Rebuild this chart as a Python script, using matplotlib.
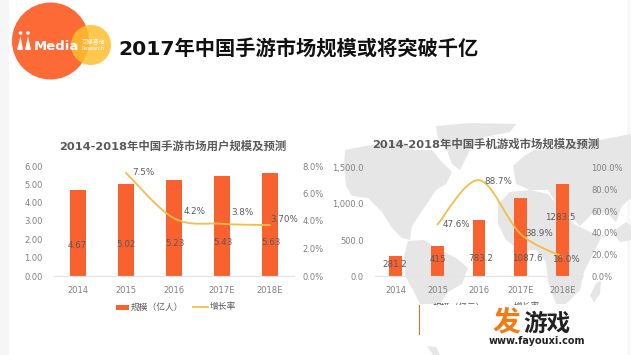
import matplotlib
matplotlib.use('Agg')
import matplotlib.pyplot as plt
from matplotlib.patches import Circle, PathPatch, Polygon, Rectangle
from matplotlib.path import Path

plt.rcParams['font.family'] = ['DejaVu Sans', 'Noto Sans CJK SC']

W, H = 631, 355
ORANGE = '#f9622e'
YELLOW = '#f5bd47'
GREY = '#7f7f7f'
DARK = '#595959'
MAP = '#e6e6e6'

# Chart data
years = ['2014', '2015', '2016', '2017E', '2018E']
users = [4.67, 5.02, 5.23, 5.43, 5.63]
users_growth = [7.5, 4.2, 3.8, 3.7]
users_growth_labels = ['7.5%', '4.2%', '3.8%', '3.70%']
market = [281.2, 415, 783.2, 1087.6, 1283.5]
market_labels = ['281.2', '415', '783.2', '1087.6', '1283.5']
market_growth = [47.6, 88.7, 38.9, 18.0]
market_growth_labels = ['47.6%', '88.7%', '38.9%', '18.0%']

# Label nudges in pixels, as placed in the original
users_bar_nudge = [(-1, -55), (0, -61), (1, -63), (1, -66), (1, -70)]
users_line_nudge = [(17, 0), (21, 7), (20, 11), (14, 6)]
market_bar_nudge = [(-1, -9), (1, -13), (2, -39), (7, -61), (-2, -34)]
market_line_nudge = [(19, 0), (19, -1), (19, 0), (4, -3)]

# Rough world map behind the right chart, in pixels
map_shapes = [
  [(345, 150), (365, 146), (385, 143), (400, 140), (415, 150), (432, 150), (440, 160), (452, 172),
   (446, 184), (436, 190), (428, 202), (420, 214), (412, 226), (410, 240), (402, 238), (392, 228),
   (382, 212), (368, 198), (352, 196), (346, 186), (344, 166)],
  [(436, 126), (470, 123), (516, 124), (510, 132), (480, 138), (470, 150), (460, 170), (452, 164),
   (446, 148), (438, 138)],
  [(408, 241), (424, 240), (440, 250), (456, 258), (468, 268), (462, 284), (448, 292), (440, 304),
   (420, 304), (414, 292), (405, 276), (404, 256)],
  [(427, 346), (436, 347), (440, 355), (433, 355)],
  [(513, 166), (524, 156), (534, 150), (560, 148), (576, 140), (600, 140), (631, 134), (631, 198),
   (622, 206), (616, 222), (606, 212), (592, 214), (580, 226), (570, 216), (558, 206), (548, 190),
   (530, 190), (516, 184)],
  [(498, 204), (510, 192), (530, 190), (548, 194), (562, 210), (574, 224), (590, 232), (602, 236),
   (592, 256), (584, 272), (580, 290), (566, 304), (556, 304), (548, 282), (546, 262), (536, 250),
   (520, 250), (506, 240), (498, 224)],
  [(596, 283), (601, 281), (600, 294), (594, 302), (590, 296)],
  [(612, 232), (626, 222), (631, 226), (631, 240), (620, 242)],
]


def px_axes(left, right, top, bottom):
  return [left / W, 1 - bottom / H, (right - left) / W, (bottom - top) / H]


def smooth_path(xs, ys):
  # Bezier segments through the real points, like a smoothed Excel line
  verts = [(xs[0], ys[0])]
  codes = [Path.MOVETO]
  n = len(xs)
  for i in range(n - 1):
    prev_i = max(i - 1, 0)
    next_i = min(i + 2, n - 1)
    verts.append((xs[i] + (xs[i + 1] - xs[prev_i]) / 6, ys[i] + (ys[i + 1] - ys[prev_i]) / 6))
    verts.append((xs[i + 1] - (xs[next_i] - xs[i]) / 6, ys[i + 1] - (ys[next_i] - ys[i]) / 6))
    verts.append((xs[i + 1], ys[i + 1]))
    codes += [Path.CURVE4] * 3
  return Path(verts, codes)


def combo(rect, values, value_labels, growth, growth_labels, ymax, yticks, yfmt, y2max, y2ticks,
          bar_nudge, line_nudge, bar_width):
  ax = fig.add_axes(rect, zorder=2)
  ax.patch.set_alpha(0)
  xs = list(range(len(years)))
  ax.bar(xs, values, bar_width, color=ORANGE)
  ax.set_xlim(-0.5, 4.5)
  ax.set_ylim(0, ymax)
  ax.set_yticks(yticks)
  ax.set_yticklabels([yfmt.format(v) for v in yticks])
  ax.set_xticks(xs)
  ax.set_xticklabels(years)
  ax.tick_params(length=0, labelsize=6, labelcolor=GREY)
  ax.tick_params(axis='y', pad=8)
  ax.tick_params(axis='x', pad=7)
  for name in ['top', 'left', 'right']:
    ax.spines[name].set_visible(False)
  ax.spines['bottom'].set_color('#e3e3ea')
  ax.spines['bottom'].set_linewidth(0.8)

  ax2 = ax.twinx()
  ax2.patch.set_alpha(0)
  ax2.set_ylim(0, y2max)
  ax2.set_yticks(y2ticks)
  ax2.set_yticklabels(['{:.1f}%'.format(v) for v in y2ticks])
  ax2.tick_params(length=0, labelsize=6, labelcolor=GREY, pad=6)
  for name in ['top', 'left', 'right', 'bottom']:
    ax2.spines[name].set_visible(False)
  ax2.add_patch(PathPatch(smooth_path(xs[1:], growth), fill=False, edgecolor=YELLOW, linewidth=1.3,
                          capstyle='round'))

  for x, v, text, nudge in zip(xs, values, value_labels, bar_nudge):
    ax2.annotate(text, (x, v / ymax * y2max), xytext=nudge, textcoords='offset pixels', ha='center',
                 va='center', fontsize=6.3, color=DARK)
  for x, v, text, nudge in zip(xs[1:], growth, growth_labels, line_nudge):
    ax2.annotate(text, (x, v), xytext=nudge, textcoords='offset pixels', ha='center', va='center',
                 fontsize=6.3, color=DARK)


fig = plt.figure(figsize=(W / 100, H / 100), dpi=100)

# Background layer: page strips and map
back = fig.add_axes([0, 0, 1, 1], zorder=0)
back.set_xlim(0, W)
back.set_ylim(H, 0)
back.axis('off')
back.add_patch(Rectangle((0, 0), 9, H, color='#f6f6f6', lw=0))
back.add_patch(Rectangle((627, 0), 4, H, color='#f8f8f8', lw=0))
for shape in map_shapes:
  back.add_patch(Polygon(shape, closed=True, facecolor=MAP, edgecolor='none'))

combo(px_axes(54, 294, 166, 276), users, ['{:.2f}'.format(v) for v in users], users_growth,
      users_growth_labels, 6, [0, 1, 2, 3, 4, 5, 6], '{:.2f}', 8, [0, 2, 4, 6, 8],
      users_bar_nudge, users_line_nudge, 0.32)
combo(px_axes(375, 583, 168, 276), market, market_labels, market_growth, market_growth_labels,
      1500, [0, 500, 1000, 1500], '{:,.1f}', 100, [0, 20, 40, 60, 80, 100],
      market_bar_nudge, market_line_nudge, 0.31)

# Top layer: titles, logo, legends and the watermark box
top = fig.add_axes([0, 0, 1, 1], zorder=5)
top.set_xlim(0, W)
top.set_ylim(H, 0)
top.axis('off')

top.add_patch(Circle((50.5, 41), 38.5, color='#fd6a35', lw=0))
top.add_patch(Circle((91, 45), 20, color='#fcc02f', alpha=0.85, lw=0))
top.text(56, 46, 'Media', color='white', fontsize=9.5, fontweight='bold', ha='center', va='center')
top.text(93, 42.5, '艾媒咨询', color='white', fontsize=4.2, ha='center', va='center')
top.text(93, 49, 'Research', color='white', fontsize=3.6, ha='center', va='center')
top.add_patch(Circle((20.5, 33), 1.8, color='white', lw=0))
top.add_patch(Circle((28, 33), 1.8, color='white', lw=0))
top.add_patch(Polygon([(20.5, 36), (23, 50), (17, 50)], closed=True, color='white', lw=0))
top.add_patch(Polygon([(28, 36), (31, 50), (25, 50)], closed=True, color='white', lw=0))

top.text(118, 49, '2017年中国手游市场规模或将突破千亿', color='#111111', fontsize=14.6, fontweight='bold',
         ha='left', va='center')
top.text(173, 146, '2014-2018年中国手游市场用户规模及预测', color=DARK, fontsize=8.2, fontweight='bold',
         ha='center', va='center')
top.text(486, 144, '2014-2018年中国手机游戏市场规模及预测', color=DARK, fontsize=8.2, fontweight='bold',
         ha='center', va='center')

# Legends
top.add_patch(Rectangle((116, 304.5), 13, 5, color=ORANGE, lw=0))
top.text(131, 307, '规模（亿人）', color=DARK, fontsize=6.3, ha='left', va='center')
top.plot([193, 208], [307, 307], color=YELLOW, lw=1.3)
top.text(210, 307, '增长率', color=DARK, fontsize=6.3, ha='left', va='center')
top.add_patch(Rectangle((419, 304.5), 13, 30, color=ORANGE, lw=0, zorder=2))
top.text(433, 307, '规模（亿元）', color=DARK, fontsize=6.3, ha='left', va='center', zorder=2)
top.plot([497, 512], [307, 307], color=YELLOW, lw=1.3, zorder=2)
top.text(514, 307, '增长率', color=DARK, fontsize=6.3, ha='left', va='center', zorder=2)

# White box hides most of the right legend
top.add_patch(Rectangle((420, 305), 207, 41, color='white', lw=0, zorder=4))
top.text(506, 322, '发', color='#f47b14', fontsize=20, fontweight='bold', ha='center', va='center', zorder=5)
top.text(547, 324, '游戏', color='#222222', fontsize=17, fontweight='bold', ha='center', va='center', zorder=5)
top.text(537, 341, 'www.fayouxi.com', color='#222222', fontsize=7, fontweight='bold', ha='center',
         va='center', zorder=5)

fig.savefig('out.png', dpi=100)
